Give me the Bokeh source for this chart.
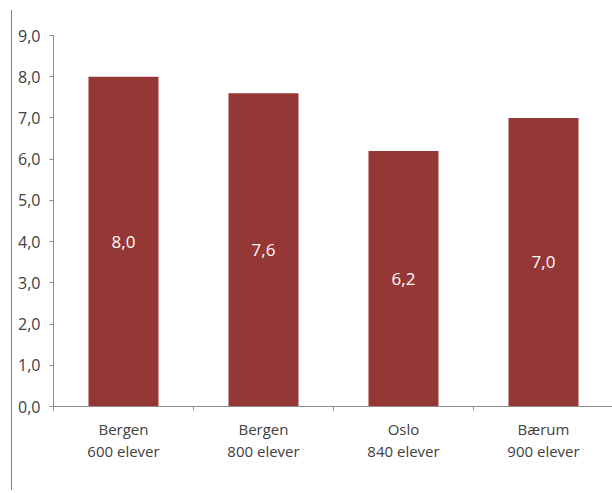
from bokeh.plotting import figure
from bokeh.models import ColumnDataSource, FixedTicker, Range1d, Div
from bokeh.layouts import row
from bokeh.embed import file_html
from bokeh.resources import INLINE
from bokeh.core.properties import value

# ---- data ----
place = ["Bergen", "Bergen", "Oslo", "Bærum"]
pupils = ["600 elever", "800 elever", "840 elever", "900 elever"]
scores = [8.0, 7.6, 6.2, 7.0]
y_ticks = [0, 1, 2, 3, 4, 5, 6, 7, 8, 9]
y_tick_labels = ["0,0", "1,0", "2,0", "3,0", "4,0", "5,0", "6,0", "7,0", "8,0", "9,0"]

BAR = "#953735"
TXT = "#404040"
AX = "#8c8c8c"

n = len(scores)
xs = [i + 0.5 for i in range(n)]
src = ColumnDataSource(dict(
    x=xs,
    top=scores,
    mid=[v / 2 for v in scores],
    lab=[f"{v:.1f}".replace(".", ",") for v in scores],
))

LEFT_W = 12
p = figure(width=612 - LEFT_W, height=493, output_backend="svg", toolbar_location=None,
           x_range=Range1d(0, 559 / 140), y_range=Range1d(0, 9),
           min_border_left=53 - LEFT_W, min_border_right=0, min_border_top=35, min_border_bottom=87)
p.outline_line_color = None
p.background_fill_color = "white"
p.border_fill_color = "white"

p.vbar(x="x", top="top", width=0.5, bottom=0, source=src, fill_color=BAR, line_color=None)
p.text(x="x", y="mid", text="lab", source=src, text_color="white",
       text_font=value("Open Sans"), text_font_size="17px",
       text_align="center", text_baseline="middle")

# y axis
ya = p.yaxis[0]
ya.ticker = FixedTicker(ticks=y_ticks, minor_ticks=[])
ya.major_label_overrides = {t: l for t, l in zip(y_ticks, y_tick_labels)}
ya.major_tick_in = 0
ya.major_tick_out = 4
ya.minor_tick_out = 0
ya.minor_tick_in = 0
ya.axis_line_color = AX
ya.major_tick_line_color = AX
ya.major_label_text_font = "Open Sans"
ya.major_label_text_font_size = "16px"
ya.major_label_text_color = TXT
ya.major_label_standoff = 9

# x axis
xa = p.xaxis[0]
xa.ticker = FixedTicker(ticks=xs, minor_ticks=list(range(n + 1)))
xa.major_label_overrides = {x: f"{a}\n{b}" for x, a, b in zip(xs, place, pupils)}
xa.major_tick_in = 0
xa.major_tick_out = 0
xa.minor_tick_in = 0
xa.minor_tick_out = 4
xa.axis_line_color = AX
xa.minor_tick_line_color = AX
xa.major_label_text_font = "Open Sans"
xa.major_label_text_font_size = "15px"
xa.major_label_text_color = TXT
xa.major_label_text_line_height = 1.12
xa.major_label_standoff = 8

# grids: only a faint top line
p.xgrid.visible = False
p.ygrid.ticker = FixedTicker(ticks=[9])
p.ygrid.grid_line_color = "#efefef"

# decorative vertical line at far left
edge = Div(text="", width=LEFT_W - 1, height=480, margin=(10, 0, 0, 0),
           styles={"border-right": "1.5px solid #808080", "box-sizing": "content-box"})

layout = row(edge, p, spacing=0)
open("out.html", "w").write(file_html(layout, INLINE))
